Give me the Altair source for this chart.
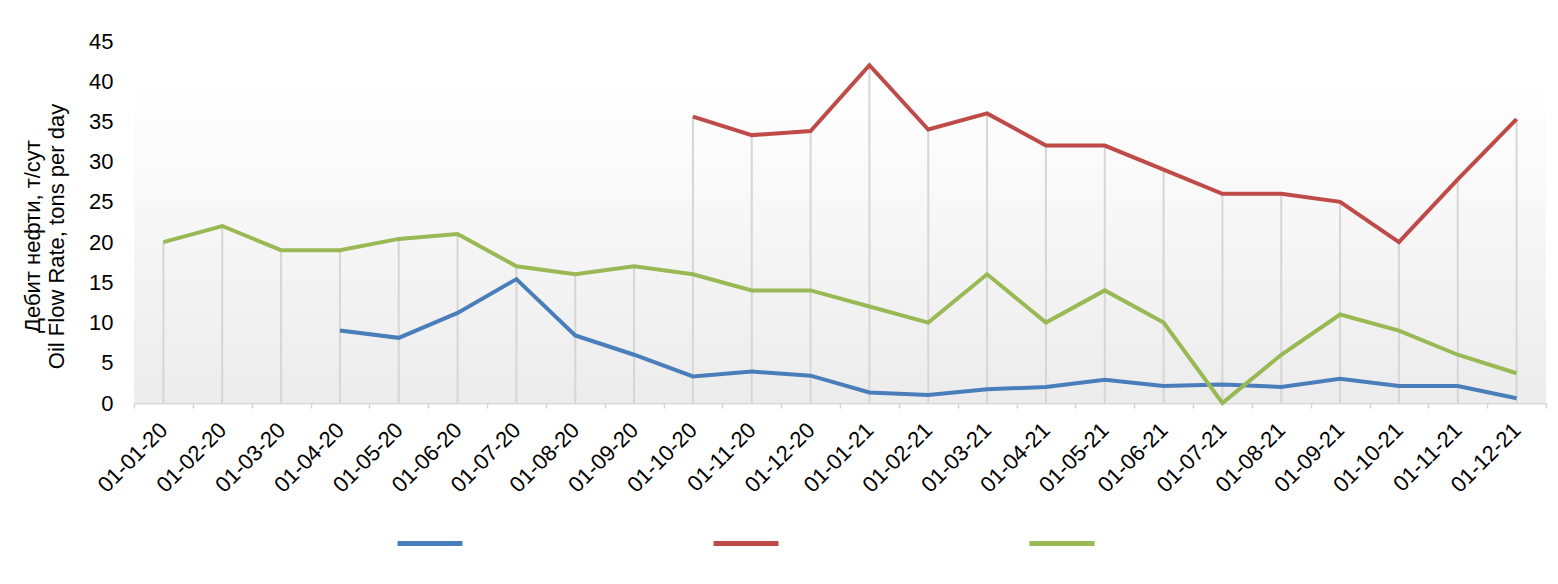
import altair as alt
import pandas as pd

# ---- data ----
dates = ["01-01-20", "01-02-20", "01-03-20", "01-04-20", "01-05-20", "01-06-20",
         "01-07-20", "01-08-20", "01-09-20", "01-10-20", "01-11-20", "01-12-20",
         "01-01-21", "01-02-21", "01-03-21", "01-04-21", "01-05-21", "01-06-21",
         "01-07-21", "01-08-21", "01-09-21", "01-10-21", "01-11-21", "01-12-21"]

series_names = ["Series 1", "Series 2", "Series 3"]
series_colors = ["#4a7ebb", "#be4b48", "#98b954"]

blue = [None, None, None, 9.0, 8.1, 11.2, 15.4, 8.4, 6.0, 3.3, 3.9, 3.4,
        1.3, 1.0, 1.7, 2.0, 2.9, 2.1, 2.3, 2.0, 3.0, 2.1, 2.1, 0.6]
red = [None, None, None, None, None, None, None, None, None, 35.6, 33.3, 33.8,
       42.0, 34.0, 36.0, 32.0, 32.0, 29.0, 26.0, 26.0, 25.0, 20.0, 27.8, 35.3]
green = [20.0, 22.0, 19.0, 19.0, 20.4, 21.0, 17.0, 16.0, 17.0, 16.0, 14.0, 14.0,
         12.0, 10.0, 16.0, 10.0, 14.0, 10.0, 0.0, 6.0, 11.0, 9.0, 6.0, 3.7]

y_ticks = [0, 5, 10, 15, 20, 25, 30, 35, 40, 45]
y_title = ["Дебит нефти, т/сут", "Oil Flow Rate, tons per day"]

rows = []
for name, vals in zip(series_names, [blue, red, green]):
    for d, v in zip(dates, vals):
        if v is not None:
            rows.append({"date": d, "series": name, "value": v})
df = pd.DataFrame(rows)

FONT = "Liberation Sans"
FS = 22
W, H = 1412, 362

x_enc = alt.X(
    "date:N",
    sort=dates,
    bandPosition=0.5,
    scale=alt.Scale(type="band", domain=dates, paddingInner=0, paddingOuter=0),
    axis=alt.Axis(
        title=None, labelAngle=315, labelAlign="right", labelBaseline="top",
        labelPadding=11, labelOffset=-7, tickBand="extent", tickSize=5,
        tickColor="#d4d4d4", tickWidth=1.5, domainColor="#d9d9d9", domainWidth=2,
        labelFontSize=FS, labelColor="#000000", labelFont=FONT, grid=False,
    ),
)

y_scale = alt.Scale(domain=[0, 45], nice=False, zero=True)

background = alt.Chart(alt.Data(values=[{}])).mark_rect(
    fill=alt.Gradient(
        gradient="linear",
        stops=[
            alt.GradientStop(color="#ffffff", offset=0),
            alt.GradientStop(color="#ffffff", offset=0.12),
            alt.GradientStop(color="#ececec", offset=1),
        ],
        x1=0, x2=0, y1=0, y2=1,
    )
).encode(x=alt.value(0), x2=alt.value(W), y=alt.value(0), y2=alt.value(H))

drops = alt.Chart(df).mark_rule(color="#d6d6d6", strokeWidth=2).encode(
    x=x_enc,
    y=alt.Y(
        "max(value):Q",
        scale=y_scale,
        axis=alt.Axis(
            values=y_ticks, grid=False, domain=False, ticks=False, tickSize=0,
            labelPadding=21, labelFontSize=FS, labelColor="#000000", labelFont=FONT,
            title=y_title, titleFontSize=FS, titleFontWeight="normal",
            titleColor="#000000", titleFont=FONT, titleX=-90, titleY=195,
            titleLineHeight=24,
        ),
    ),
    y2=alt.datum(0),
)

lines = alt.Chart(df).mark_line(strokeWidth=4, strokeJoin="miter").encode(
    x=x_enc,
    y=alt.Y("value:Q", scale=y_scale),
    color=alt.Color(
        "series:N",
        scale=alt.Scale(domain=series_names, range=series_colors),
        legend=alt.Legend(
            orient="none", legendX=261, legendY=467.5, direction="horizontal",
            columns=3, symbolType="stroke", symbolSize=4225, symbolStrokeWidth=5,
            labelExpr="''", title=None, columnPadding=230, padding=0,
            labelOffset=0, symbolOffset=0,
        ),
    ),
    detail="series:N",
)

chart = alt.layer(background, drops, lines).properties(
    width=W,
    height=H,
    padding={"left": 126, "top": 33, "right": 4, "bottom": 150},
    autosize=alt.AutoSizeParams(type="none"),
    background="#ffffff",
).configure_view(stroke=None)

chart.save("out.html", embed_options={"renderer": "svg", "actions": False})
